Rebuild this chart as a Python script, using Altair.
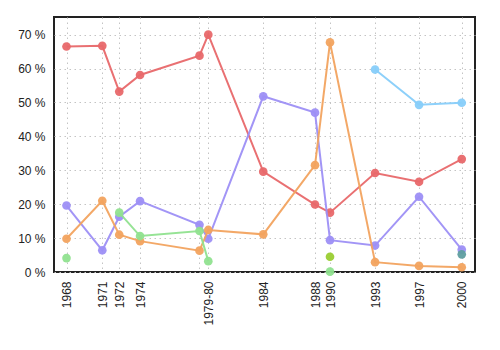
import json
import altair as alt
import pandas as pd

# x positions (fractional years) and their tick labels
xs = [1968.01, 1970.90, 1972.27, 1973.95, 1978.75, 1979.46, 1983.90, 1988.08, 1989.29, 1992.93, 1996.48, 1999.93]
tick_labels = ["1968", "1971", "1972", "1974", "", "1979-80", "1984", "1988", "1990", "1993", "1997", "2000"]

red = [66.5, 66.7, 53.2, 58.1, 63.8, 70.0, 29.6, 19.9, 17.5, 29.2, 26.6, 33.3]
purple = [19.6, 6.4, 16.3, 20.9, 13.9, 9.8, 51.8, 47.0, 9.4, 7.8, 22.2, 6.6]
orange = [9.8, 21.0, 11.0, 9.1, 6.3, 12.4, 11.1, 31.5, 67.7, 2.9, 1.8, 1.4]
green = [4.1, None, 17.5, 10.6, 12.1, 3.2, None, None, 0.1, None, None, None]
skyblue = [None, None, None, None, None, None, None, None, None, 59.7, 49.3, 49.9]
olive = [None, None, None, None, None, None, None, None, 4.5, None, None, None]
teal = [None, None, None, None, None, None, None, None, None, None, None, 5.2]

series = [
    ("red", red, "#e8686a"),
    ("purple", purple, "#9d8ff5"),
    ("orange", orange, "#f2a35f"),
    ("green", green, "#90e28f"),
    ("skyblue", skyblue, "#87cefa"),
    ("olive", olive, "#9acd32"),
    ("teal", teal, "#5f9ea0"),
]

label_expr = f"{json.dumps(tick_labels)}[indexof({json.dumps(xs)}, datum.value)]"

x_enc = alt.X("x:Q", scale=alt.Scale(domain=[1967, 2001], nice=False, zero=False),
              axis=alt.Axis(values=xs, labelExpr=label_expr, labelAngle=-90, title=None,
                            ticks=False, labelPadding=9, domain=False, grid=True,
                            gridColor="#c4c4c4", gridDash=[1.5, 3.5], labelFontSize=12,
                            labelColor="#222222", labelFont="Liberation Sans",
                            labelOverlap=False, labelBaseline="middle", labelAlign="right"))
y_enc = alt.Y("y:Q", scale=alt.Scale(domain=[0, 75.2], nice=False),
              axis=alt.Axis(values=[0, 10, 20, 30, 40, 50, 60, 70], format="d",
                            labelExpr="datum.value + ' %'", title=None, ticks=False,
                            labelPadding=9, domain=False, gridColor="#c4c4c4",
                            gridDash=[1.5, 3.5], labelFontSize=12, labelColor="#222222",
                            labelFont="Liberation Sans"))

layers = []
for name, vals, col in series:
    rows = []
    seg = 0
    prev_valid = False
    for x, v in zip(xs, vals):
        if v is None:
            if prev_valid:
                seg += 1
            prev_valid = False
            continue
        rows.append({"x": x, "y": v, "seg": seg})
        prev_valid = True
    df = pd.DataFrame(rows)
    base = alt.Chart(df).encode(x=x_enc, y=y_enc)
    layers.append(base.mark_line(color=col, strokeWidth=2, opacity=0.95).encode(detail="seg:N"))
    layers.append(base.mark_circle(color=col, size=75, opacity=0.95))

chart = alt.layer(*layers).properties(
    width=421, height=255,
    autosize=alt.AutoSizeParams(type="none"),
    padding={"left": 54, "top": 17, "right": 25, "bottom": 78},
).configure_view(stroke="#222222", strokeWidth=2)

chart.save("out.html", embed_options={"renderer": "svg", "actions": False})
